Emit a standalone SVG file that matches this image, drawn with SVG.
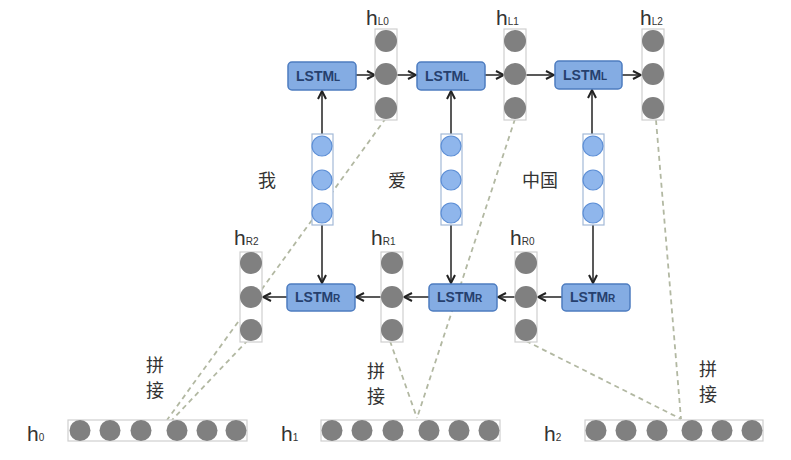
<svg xmlns="http://www.w3.org/2000/svg" width="791" height="460" viewBox="0 0 791 460">
<defs>
<marker id="arr" viewBox="0 0 10 10" refX="9" refY="5" markerWidth="10" markerHeight="10" markerUnits="userSpaceOnUse" orient="auto">
<path d="M1,1 L9,5 L1,9" fill="none" stroke="#222" stroke-width="2"/>
</marker>
</defs>
<style>
.box{fill:#84ace3;stroke:#4d7cc0;stroke-width:1.5}
.bt{font-family:"Liberation Sans",Arial,sans-serif;font-weight:bold;font-size:14px;fill:#26406e}
.bs{font-size:10px}
.col{fill:#fff;stroke:#cfcfcf;stroke-width:1.2}
.g{fill:#808080}
.b{fill:#8fb6ec;stroke:#5d8fd6;stroke-width:1.2}
.lbl{font-family:"Liberation Sans",Arial,sans-serif;font-size:21px;fill:#333}
.sub{font-size:10px}
.cn{font-family:"Noto Sans CJK SC","Noto Sans",sans-serif;font-size:18px;fill:#333}
.ar{stroke:#222;stroke-width:1.5;fill:none;marker-end:url(#arr)}
.dl{stroke:#b2b8a2;stroke-width:1.8;stroke-dasharray:5,4;fill:none}
</style>
<rect width="791" height="460" fill="#fff"/>

<g id="connectors">
<line class="dl" x1="386" y1="118" x2="167" y2="420"/>
<line class="dl" x1="248" y1="340" x2="172" y2="420"/>
<line class="dl" x1="515" y1="119" x2="417" y2="418"/>
<line class="dl" x1="390" y1="341" x2="417" y2="418"/>
<line class="dl" x1="526" y1="341" x2="681" y2="419"/>
<line class="dl" x1="656" y1="120" x2="681" y2="419"/>
<line class="ar" x1="322" y1="134" x2="322" y2="91"/>
<line class="ar" x1="451" y1="134" x2="451" y2="91"/>
<line class="ar" x1="592" y1="134" x2="592" y2="90"/>
<line class="ar" x1="322" y1="225" x2="322" y2="283"/>
<line class="ar" x1="451" y1="225" x2="451" y2="283"/>
<line class="ar" x1="593" y1="225" x2="593" y2="283"/>
<line class="ar" x1="356" y1="75" x2="375" y2="75"/>
<line class="ar" x1="397" y1="75" x2="416" y2="75"/>
<line class="ar" x1="485" y1="75" x2="504" y2="75"/>
<line class="ar" x1="526" y1="75" x2="554" y2="75"/>
<line class="ar" x1="622" y1="75" x2="641" y2="75"/>
<line class="ar" x1="562" y1="297" x2="538" y2="297"/>
<line class="ar" x1="515" y1="297" x2="498" y2="297"/>
<line class="ar" x1="429" y1="297" x2="404" y2="297"/>
<line class="ar" x1="381" y1="297" x2="356" y2="297"/>
<line class="ar" x1="287" y1="297" x2="263" y2="297"/>
</g>

<g id="lstmL0"><rect class="box" x="288" y="62" width="68" height="28" rx="4"/><text class="bt" x="296" y="81">LSTM<tspan class="bs">L</tspan></text></g>
<g id="lstmL1"><rect class="box" x="417" y="62" width="68" height="28" rx="4"/><text class="bt" x="425" y="81">LSTM<tspan class="bs">L</tspan></text></g>
<g id="lstmL2"><rect class="box" x="555" y="61" width="67" height="28" rx="4"/><text class="bt" x="563" y="80">LSTM<tspan class="bs">L</tspan></text></g>

<g id="lstmR0"><rect class="box" x="287" y="284" width="68" height="27" rx="4"/><text class="bt" x="295" y="302">LSTM<tspan class="bs">R</tspan></text></g>
<g id="lstmR1"><rect class="box" x="429" y="284" width="68" height="27" rx="4"/><text class="bt" x="437" y="302">LSTM<tspan class="bs">R</tspan></text></g>
<g id="lstmR2"><rect class="box" x="562" y="284" width="68" height="27" rx="4"/><text class="bt" x="570" y="302">LSTM<tspan class="bs">R</tspan></text></g>

<g id="hL0"><text class="lbl" x="366" y="25">h<tspan class="sub">L0</tspan></text><rect class="col" x="375" y="29" width="22" height="91"/><circle class="g" cx="386" cy="41" r="11"/><circle class="g" cx="386" cy="74" r="11"/><circle class="g" cx="386" cy="108" r="11"/></g>
<g id="hL1"><text class="lbl" x="496" y="25">h<tspan class="sub">L1</tspan></text><rect class="col" x="504" y="29" width="22" height="91"/><circle class="g" cx="515" cy="41" r="11"/><circle class="g" cx="515" cy="74" r="11"/><circle class="g" cx="515" cy="108" r="11"/></g>
<g id="hL2"><text class="lbl" x="640" y="25">h<tspan class="sub">L2</tspan></text><rect class="col" x="642" y="29" width="22" height="91"/><circle class="g" cx="653" cy="41" r="11"/><circle class="g" cx="653" cy="74" r="11"/><circle class="g" cx="653" cy="108" r="11"/></g>

<g id="x0"><rect class="col" x="312" y="134" width="21" height="91" style="stroke:#a3b9d8"/><circle class="b" cx="322" cy="146" r="10"/><circle class="b" cx="322" cy="180" r="10"/><circle class="b" cx="322" cy="213" r="10"/><text class="cn" x="258" y="187">我</text></g>
<g id="x1"><rect class="col" x="441" y="134" width="21" height="91" style="stroke:#a3b9d8"/><circle class="b" cx="451" cy="146" r="10"/><circle class="b" cx="451" cy="180" r="10"/><circle class="b" cx="451" cy="213" r="10"/><text class="cn" x="388" y="187">爱</text></g>
<g id="x2"><rect class="col" x="583" y="134" width="21" height="91" style="stroke:#a3b9d8"/><circle class="b" cx="593" cy="146" r="10"/><circle class="b" cx="593" cy="180" r="10"/><circle class="b" cx="593" cy="213" r="10"/><text class="cn" x="522" y="187">中国</text></g>

<g id="hR2"><text class="lbl" x="234" y="245">h<tspan class="sub">R2</tspan></text><rect class="col" x="240" y="252" width="22" height="90"/><circle class="g" cx="251" cy="263" r="11"/><circle class="g" cx="251" cy="297" r="11"/><circle class="g" cx="251" cy="330" r="11"/></g>
<g id="hR1"><text class="lbl" x="371" y="245">h<tspan class="sub">R1</tspan></text><rect class="col" x="381" y="252" width="22" height="90"/><circle class="g" cx="392" cy="263" r="11"/><circle class="g" cx="392" cy="297" r="11"/><circle class="g" cx="392" cy="330" r="11"/></g>
<g id="hR0"><text class="lbl" x="510" y="245">h<tspan class="sub">R0</tspan></text><rect class="col" x="515" y="252" width="22" height="90"/><circle class="g" cx="526" cy="263" r="11"/><circle class="g" cx="526" cy="297" r="11"/><circle class="g" cx="526" cy="330" r="11"/></g>

<g id="h0"><text class="lbl" x="27" y="441">h<tspan class="sub">0</tspan></text><rect class="col" x="68" y="420" width="179" height="21"/><circle class="g" cx="80" cy="430.5" r="10.5"/><circle class="g" cx="110" cy="430.5" r="10.5"/><circle class="g" cx="141" cy="430.5" r="10.5"/><circle class="g" cx="177" cy="430.5" r="10.5"/><circle class="g" cx="207" cy="430.5" r="10.5"/><circle class="g" cx="236" cy="430.5" r="10.5"/><text class="cn" x="146" y="372">拼</text><text class="cn" x="146" y="397">接</text></g>
<g id="h1"><text class="lbl" x="281" y="441">h<tspan class="sub">1</tspan></text><rect class="col" x="321" y="420" width="179" height="21"/><circle class="g" cx="332" cy="430.5" r="10.5"/><circle class="g" cx="362" cy="430.5" r="10.5"/><circle class="g" cx="393" cy="430.5" r="10.5"/><circle class="g" cx="429" cy="430.5" r="10.5"/><circle class="g" cx="459" cy="430.5" r="10.5"/><circle class="g" cx="489" cy="430.5" r="10.5"/><text class="cn" x="367" y="378">拼</text><text class="cn" x="367" y="403">接</text></g>
<g id="h2"><text class="lbl" x="544" y="441">h<tspan class="sub">2</tspan></text><rect class="col" x="585" y="420" width="178" height="21"/><circle class="g" cx="596" cy="430.5" r="10.5"/><circle class="g" cx="626" cy="430.5" r="10.5"/><circle class="g" cx="657" cy="430.5" r="10.5"/><circle class="g" cx="692" cy="430.5" r="10.5"/><circle class="g" cx="722" cy="430.5" r="10.5"/><circle class="g" cx="752" cy="430.5" r="10.5"/><text class="cn" x="699" y="376">拼</text><text class="cn" x="699" y="401">接</text></g>
</svg>
